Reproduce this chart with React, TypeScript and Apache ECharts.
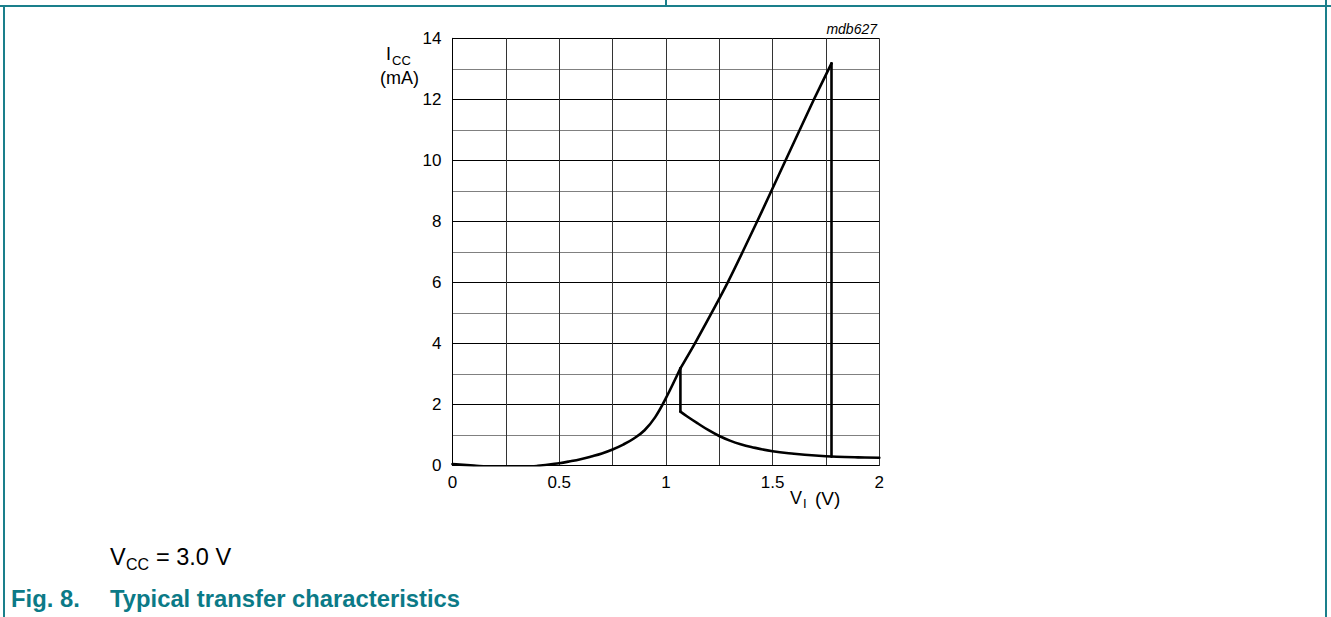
import React, { useEffect, useRef } from "react";
import * as echarts from "echarts";

// ---- data ----
const xTickLabels = ["0", "0.5", "1", "1.5", "2"];
const yTickLabels = ["0", "2", "4", "6", "8", "10", "12", "14"];

// rising branch (low part)
const riseV = [0, 0.1, 0.2, 0.3, 0.4, 0.5, 0.55, 0.6, 0.65, 0.7, 0.75, 0.8, 0.85, 0.9, 0.95, 1.0, 1.068];
const riseI = [0.04, -0.01, -0.05, -0.06, -0.02, 0.07, 0.13, 0.2, 0.29, 0.39, 0.52, 0.68, 0.88, 1.15, 1.58, 2.2, 3.18];

// rising branch (upper straight part)
const upV = [1.068, 1.14, 1.29, 1.428, 1.561, 1.694, 1.776];
const upI = [3.18, 4.05, 6, 8, 10, 12, 13.18];

// vertical fall at the end of the upper branch
const vertV = [1.776, 1.776];
const vertI = [13.18, 0.28];

// small vertical drop
const dropV = [1.068, 1.068];
const dropI = [3.18, 1.76];

// falling branch
const fallV = [1.068, 1.1, 1.15, 1.2, 1.25, 1.3, 1.35, 1.4, 1.5, 1.6, 1.7, 1.8, 1.9, 2.0];
const fallI = [1.76, 1.6, 1.37, 1.15, 0.96, 0.81, 0.69, 0.6, 0.46, 0.38, 0.32, 0.28, 0.26, 0.25];

const pairs = (xs: number[], ys: number[]) => xs.map((x, i) => [x, ys[i]]);

const FONT = "Liberation Sans, Arial, Helvetica, sans-serif";
const TEAL_TEXT = "#0b7a87";
const TEAL_LINE = "#1a7f8b";

export default function App() {
  const ref = useRef<HTMLDivElement>(null);

  useEffect(() => {
    if (!ref.current) return;
    const chart = echarts.init(ref.current, undefined, { renderer: "svg" });

    const curveStyle = { color: "#000", width: 2.6, cap: "round", join: "round" };
    const mkLine = (data: number[][], smooth: number | boolean) => ({
      type: "line",
      data,
      smooth,
      showSymbol: false,
      symbol: "none",
      lineStyle: curveStyle,
      itemStyle: { color: "#000" },
      silent: true,
      z: 5,
    });

    const txt = (x: number, y: number, text: string, size: number, opts: any = {}) => ({
      type: "text",
      x,
      y,
      silent: true,
      style: {
        text,
        fontSize: size,
        fontFamily: FONT,
        fill: opts.fill || "#000",
        fontWeight: opts.weight || "normal",
        fontStyle: opts.italic ? "italic" : "normal",
        align: opts.align || "left",
        verticalAlign: "middle",
      },
    });

    chart.setOption({
      animation: false,
      backgroundColor: "#fff",
      grid: {
        left: 452.5,
        top: 38.3,
        right: 1331 - 879.3,
        bottom: 617 - 465.3,
        containLabel: false,
        outerBoundsMode: "none",
      },
      xAxis: {
        type: "value",
        min: 0,
        max: 2,
        interval: 0.5,
        axisLine: { show: true, lineStyle: { color: "#000", width: 1 } },
        axisTick: { show: false },
        minorTick: { show: false, splitNumber: 2 },
        splitLine: { show: true, lineStyle: { color: "#333", width: 1 } },
        minorSplitLine: { show: true, lineStyle: { color: "#333", width: 1 } },
        axisLabel: {
          fontSize: 17,
          color: "#000",
          fontFamily: FONT,
          margin: 9,
          formatter: (v: number) => xTickLabels[Math.round(v / 0.5)] ?? "",
        },
      },
      yAxis: {
        type: "value",
        min: 0,
        max: 14,
        interval: 2,
        axisLine: { show: true, lineStyle: { color: "#000", width: 1 } },
        axisTick: { show: false },
        minorTick: { show: false, splitNumber: 2 },
        splitLine: { show: true, lineStyle: { color: "#000", width: 1 } },
        minorSplitLine: { show: true, lineStyle: { color: "#808080", width: 1 } },
        axisLabel: {
          fontSize: 17,
          color: "#000",
          fontFamily: FONT,
          margin: 11,
          formatter: (v: number) => yTickLabels[Math.round(v / 2)] ?? "",
        },
      },
      series: [
        mkLine(pairs(riseV, riseI), 0.4),
        mkLine(pairs(upV, upI), 0.2),
        mkLine(pairs(vertV, vertI), false),
        mkLine(pairs(dropV, dropI), false),
        mkLine(pairs(fallV, fallI), 0.4),
      ],
      graphic: [
        // frame
        { type: "line", silent: true, shape: { x1: 0, y1: 6, x2: 1331, y2: 6 }, style: { stroke: TEAL_LINE, lineWidth: 2 } },
        { type: "line", silent: true, shape: { x1: 4, y1: 6, x2: 4, y2: 617 }, style: { stroke: TEAL_LINE, lineWidth: 2 } },
        { type: "line", silent: true, shape: { x1: 1326, y1: 0, x2: 1326, y2: 617 }, style: { stroke: TEAL_LINE, lineWidth: 2 } },
        { type: "line", silent: true, shape: { x1: 666, y1: 0, x2: 666, y2: 6 }, style: { stroke: TEAL_LINE, lineWidth: 2 } },
        // figure code
        txt(877, 29, "mdb627", 14, { italic: true, align: "right" }),
        // y-axis title
        txt(386, 54, "I", 18),
        txt(392, 60, "CC", 13),
        txt(380, 78, "(mA)", 18),
        // x-axis title
        txt(790, 498, "V", 18),
        txt(803, 503, "I", 13),
        txt(815, 498, "(V)", 19),
        // condition
        txt(110, 557, "V", 23.5),
        txt(126, 564, "CC", 16),
        txt(156, 557, "= 3.0 V", 23.5),
        // caption
        txt(11, 598, "Fig. 8.", 23.8, { weight: "bold", fill: TEAL_TEXT }),
        txt(110, 598, "Typical transfer characteristics", 23.8, { weight: "bold", fill: TEAL_TEXT }),
      ],
    });

    return () => chart.dispose();
  }, []);

  return (
    <div
      ref={ref}
      style={{ position: "absolute", left: 0, top: 0, width: 1331, height: 617 }}
    />
  );
}
